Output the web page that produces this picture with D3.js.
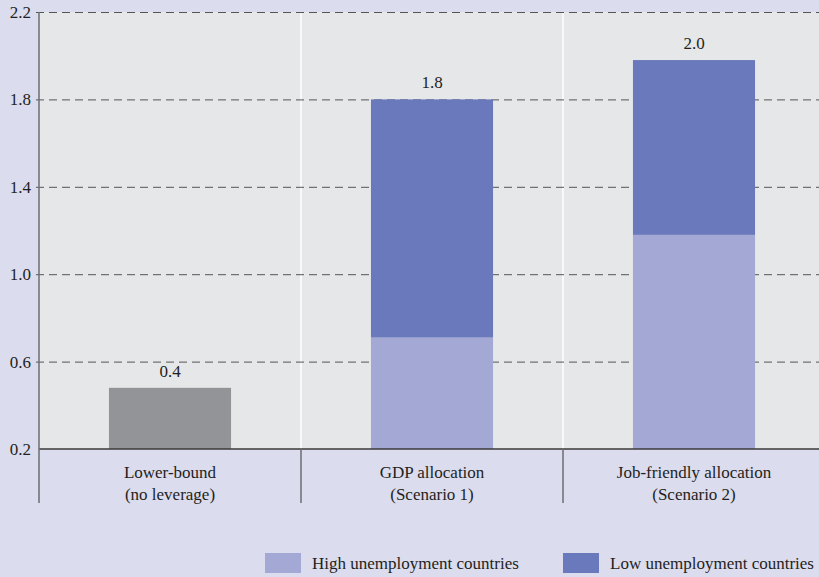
<!DOCTYPE html>
<html>
<head>
<meta charset="utf-8">
<script src="https://cdn.jsdelivr.net/npm/d3@7"></script>
<style>
  html, body { margin: 0; padding: 0; background: #dcdcef; }
  svg { display: block; }
</style>
</head>
<body>
<svg id="chart" width="819" height="577"></svg>
<script>
const categories = ["Lower-bound\n(no leverage)", "GDP allocation\n(Scenario 1)", "Job-friendly allocation\n(Scenario 2)"];
const highUnemployment = [0.48, 0.71, 1.18];   // lower segment (bar 1 = total, grey)
const lowUnemployment = [0, 1.09, 0.80];       // upper segment
const totalLabels = ["0.4", "1.8", "2.0"];
const yTicks = [0.2, 0.6, 1.0, 1.4, 1.8, 2.2];
const legendLabels = ["High unemployment countries", "Low unemployment countries"];

const W = 819, H = 577;
const m = { left: 39, right: -6, top: 12, bottom: 128 };
const svg = d3.select("#chart");
const FF = '"Liberation Serif"';
const FS = 17;
const TXT = "#231f20";

svg.append("rect").attr("width", W).attr("height", H).attr("fill", "#dcdcef");

const x = d3.scaleBand().domain(categories).range([m.left, W - m.right]).padding(0);
const y = d3.scaleLinear().domain([0.2, 2.2]).range([H - m.bottom, m.top]);
const base = 0.2;

// plot background
svg.append("rect")
  .attr("x", m.left).attr("y", y(2.2))
  .attr("width", (W - m.right) - m.left).attr("height", y(0.2) - y(2.2))
  .attr("fill", "#e6e7e9");

// category dividers inside plot (white)
categories.slice(1).forEach(c => {
  svg.append("line")
    .attr("x1", x(c)).attr("x2", x(c))
    .attr("y1", y(2.2)).attr("y2", y(0.2))
    .attr("stroke", "#ffffff").attr("stroke-width", 1.5);
});

// gridlines + y labels
const yAxis = d3.axisLeft(y).tickValues(yTicks).tickFormat(d3.format(".1f"))
  .tickSize(0).tickPadding(6);
const gy = svg.append("g").attr("transform", `translate(${m.left},0)`).call(yAxis)
  .attr("font-family", FF).attr("font-size", FS);
gy.select(".domain").remove();
gy.selectAll(".tick line")
  .attr("x1", -3)
  .attr("x2", (W - m.right) - m.left)
  .attr("stroke", "#555")
  .attr("stroke-width", 1)
  .attr("stroke-dasharray", "8,5");
gy.selectAll(".tick text")
  .attr("x", -8)
  .attr("font-family", FF)
  .attr("font-size", FS)
  .attr("fill", TXT);
gy.selectAll(".tick").filter(d => d === 0.2).select("line").remove();

// bars
const bw = x.bandwidth() * 0.466;
const bx = c => x(c) + (x.bandwidth() - bw) / 2;

categories.forEach((c, i) => {
  const lo = highUnemployment[i], up = lowUnemployment[i];
  if (i === 0) {
    svg.append("rect").attr("x", bx(c)).attr("width", bw)
      .attr("y", y(lo)).attr("height", y(base) - y(lo))
      .attr("fill", "#939497");
  } else {
    svg.append("rect").attr("x", bx(c)).attr("width", bw)
      .attr("y", y(lo)).attr("height", y(base) - y(lo))
      .attr("fill", "#a3a8d4");
    svg.append("rect").attr("x", bx(c)).attr("width", bw)
      .attr("y", y(lo + up)).attr("height", y(lo) - y(lo + up))
      .attr("fill", "#6a79bb");
  }
  svg.append("text")
    .attr("x", x(c) + x.bandwidth() / 2)
    .attr("y", y(lo + up) - 11)
    .attr("text-anchor", "middle")
    .attr("font-family", FF).attr("font-size", FS).attr("fill", TXT)
    .text(totalLabels[i]);
});

// bottom axis line
svg.append("line")
  .attr("x1", m.left).attr("x2", W)
  .attr("y1", y(0.2)).attr("y2", y(0.2))
  .attr("stroke", "#3a3a3a").attr("stroke-width", 1.5);

// left axis line
svg.append("line")
  .attr("x1", m.left).attr("x2", m.left)
  .attr("y1", y(2.2)).attr("y2", 503)
  .attr("stroke", "#6d6e71").attr("stroke-width", 1.5);

// category divider ticks below axis
categories.slice(1).forEach(c => {
  svg.append("line")
    .attr("x1", x(c)).attr("x2", x(c))
    .attr("y1", y(0.2)).attr("y2", 503)
    .attr("stroke", "#6d6e71").attr("stroke-width", 1.5);
});

// category labels
categories.forEach(c => {
  const lines = c.split("\n");
  const t = svg.append("text")
    .attr("x", x(c) + x.bandwidth() / 2)
    .attr("y", 478)
    .attr("text-anchor", "middle")
    .attr("font-family", FF).attr("font-size", FS).attr("fill", TXT);
  lines.forEach((l, k) => {
    t.append("tspan").attr("x", x(c) + x.bandwidth() / 2)
      .attr("dy", k === 0 ? 0 : 22).text(l);
  });
});

// legend
const legendColors = ["#a3a8d4", "#6a79bb"];
const legendX = [265, 563];
legendLabels.forEach((l, i) => {
  svg.append("rect").attr("x", legendX[i]).attr("y", 553)
    .attr("width", 36).attr("height", 20).attr("fill", legendColors[i]);
  svg.append("text").attr("x", legendX[i] + 47).attr("y", 569)
    .attr("font-family", FF).attr("font-size", FS).attr("fill", TXT).text(l);
});
</script>
</body>
</html>
